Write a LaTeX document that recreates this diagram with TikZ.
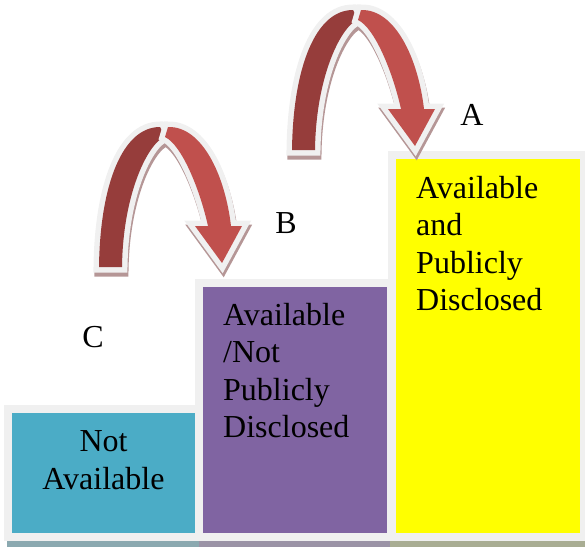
\documentclass[tikz,border=0pt]{standalone}
\usepackage{fontspec}
\setmainfont{Liberation Serif}
\usepackage{tikz}
\usetikzlibrary{positioning}
\definecolor{NotAvailCyan}{HTML}{4BACC6}
\definecolor{HiddenPurple}{HTML}{8064A2}
\definecolor{PublicYellow}{HTML}{FFFF00}
\definecolor{FrameGray}{HTML}{F0F0F0}
\definecolor{ArrowDark}{HTML}{963D3B}
\definecolor{ArrowLight}{HTML}{C0504D}
\definecolor{ArrowShadow}{HTML}{B59696}
\definecolor{CyanShadow}{HTML}{8BA9B0}
\definecolor{PurpleShadow}{HTML}{9B93A6}
\definecolor{YellowShadow}{HTML}{A9AD93}

% the two halves of one hop arrow
\newcommand{\darkband}{(99,267) .. controls (100,186) and (122,127) .. (160,127) -- (165,137) .. controls (150,141) and (123,190) .. (122,267) -- cycle}
\newcommand{\lightband}{(168,127) .. controls (202,126) and (225,175) .. (231,226) -- (242,226) -- (222,263) -- (195,226) -- (208,226) .. controls (200,190) and (182,145) .. (165,137) -- cycle}

\tikzset{
  level/.style={draw=FrameGray,line width=8,inner sep=0pt,minimum width=192},
  leveltext/.style={inner sep=0pt,align=left,font=\fontsize{32}{37.5}\selectfont},
  hoparrow/.pic={
    \filldraw[ArrowShadow,line width=11,shift={(1,4)}] \darkband \lightband;
    \filldraw[draw=FrameGray,fill=ArrowDark,line width=11] \darkband;
    \fill[ArrowDark] \darkband;
    \filldraw[draw=FrameGray,fill=ArrowLight,line width=11] \lightband;
    \fill[ArrowLight] \lightband;
  }
}

\begin{document}
\begin{tikzpicture}[x=1pt,y=-1pt]
\useasboundingbox (0,0) rectangle (585,546);
\clip (0,0) rectangle (585,546);

% shadows under the steps
\fill[CyanShadow] (7,410) rectangle (206,550);
\fill[PurpleShadow] (199,285) rectangle (397,550);
\fill[YellowShadow] (390,157) rectangle (590,550);

% the three steps
\node[level,fill=NotAvailCyan,minimum width=191,minimum height=128] (notavail) at (103.5,473) {};
\node[level,fill=HiddenPurple,minimum height=254] (availhidden) at (295,410) {};
\node[level,fill=PublicYellow,minimum height=382] (availpublic) at (488,346) {};

% base anchor sits on the last line
\node[leveltext,align=center,anchor=base] (notavailtext) at (103.5,489) {Not\\Available};
\node[leveltext,anchor=base west] (availhiddentext) at (223,437.5) {Available\\{/}Not\\Publicly\\Disclosed};
\node[leveltext,anchor=base west] (availpublictext) at (416,310.5) {Available\\and\\Publicly\\Disclosed};

% hops
\pic at (0,0) {hoparrow};
\pic at (193,-117) {hoparrow};

\node[leveltext,anchor=base] (labelc) at (93,347) {C};
\node[leveltext,anchor=base] (labelb) at (286,233) {B};
\node[leveltext,anchor=base] (labela) at (472,125) {A};
\end{tikzpicture}
\end{document}
